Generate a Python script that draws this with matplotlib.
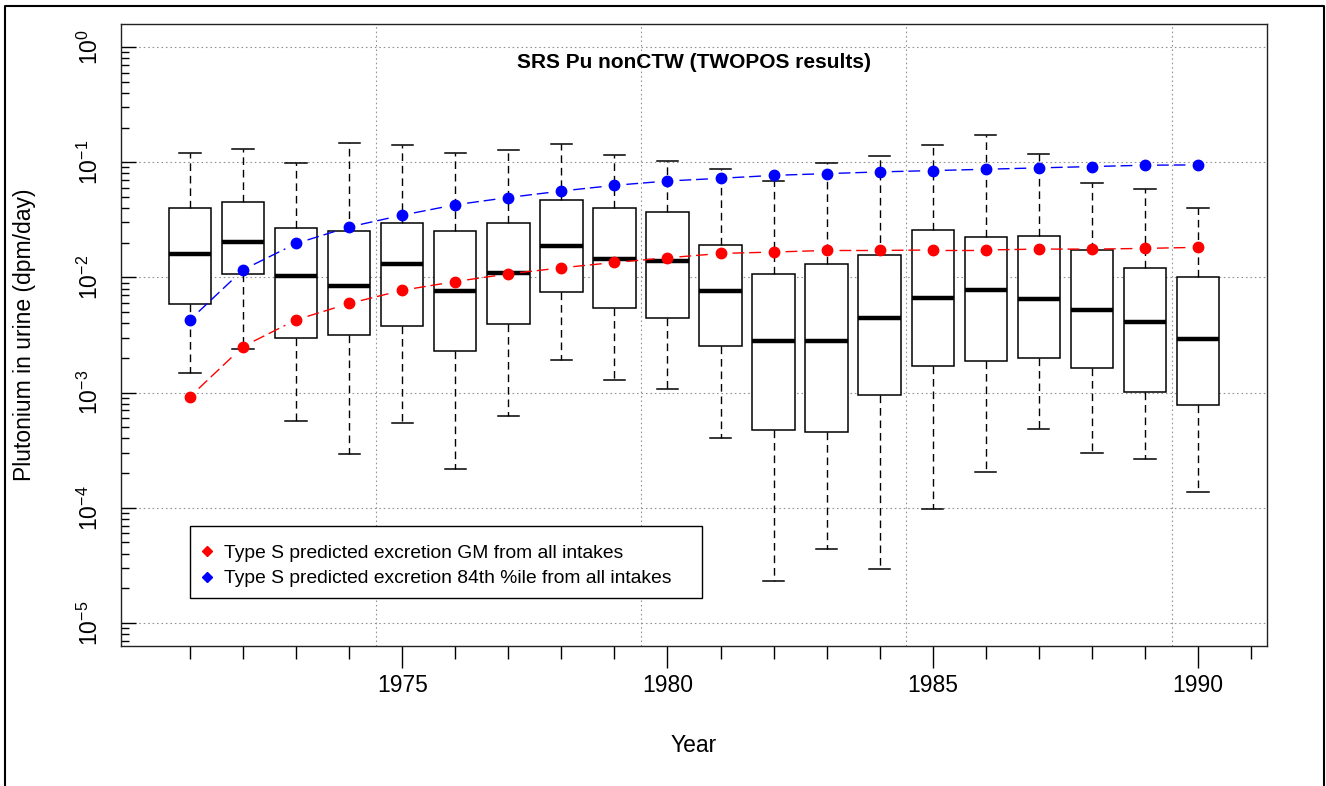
import numpy as np
import matplotlib

matplotlib.use("Agg")
import matplotlib.pyplot as plt
from matplotlib.lines import Line2D
from matplotlib.patches import Rectangle
from matplotlib.ticker import LogLocator, NullFormatter

plt.rcParams["font.family"] = ["Liberation Sans", "DejaVu Sans"]
plt.rcParams["mathtext.fontset"] = "custom"
plt.rcParams["mathtext.rm"] = "Liberation Sans"
plt.rcParams["mathtext.it"] = "Liberation Sans:italic"
plt.rcParams["mathtext.bf"] = "Liberation Sans:bold"

# --- data (dpm/day) ---
years = list(range(1971, 1991))
whishi = [0.120, 0.1305, 0.0987, 0.1466, 0.140, 0.120, 0.1265, 0.1426, 0.1166, 0.1027,
          0.0869, 0.0687, 0.098, 0.1128, 0.140, 0.171, 0.1174, 0.0664, 0.0588, 0.0402]
q3 = [0.0402, 0.0456, 0.0267, 0.0251, 0.0299, 0.0251, 0.0299, 0.0466, 0.0402, 0.0368,
      0.01923, 0.01066, 0.01312, 0.01563, 0.0258, 0.0223, 0.0230, 0.01715, 0.0120, 0.0101]
med = [0.0161, 0.0204, 0.0103, 0.00849, 0.01312, 0.00767, 0.0110, 0.0187, 0.01432, 0.01394,
       0.00767, 0.00283, 0.00283, 0.00440, 0.00667, 0.00773, 0.00644, 0.00524, 0.00414, 0.00292]
q1 = [0.0059, 0.01066, 0.0030, 0.00319, 0.00379, 0.00231, 0.00392, 0.00746, 0.00542, 0.00440,
      0.00252, 0.000469, 0.000453, 0.000955, 0.00171, 0.00188, 0.00198, 0.00162, 0.00101, 0.000774]
whislo = [0.00148, 0.00238, 0.000562, 0.000293, 0.000543, 0.000218, 0.000629, 0.00193, 0.00129, 0.001076,
          0.000404, 2.31e-5, 4.35e-5, 2.97e-5, 9.84e-5, 0.000206, 0.000485, 0.000301, 0.000267, 0.000136]
gm = [0.00092, 0.00251, 0.00428, 0.00594, 0.00773, 0.00920, 0.01073, 0.01211, 0.01349, 0.01480,
      0.01614, 0.0166, 0.01715, 0.01715, 0.0173, 0.0173, 0.01762, 0.0176, 0.01786, 0.01824]
p84 = [0.00428, 0.01164, 0.0197, 0.0274, 0.0347, 0.0427, 0.0494, 0.0562, 0.0630, 0.0687,
       0.0725, 0.0769, 0.0796, 0.0824, 0.0846, 0.0869, 0.0893, 0.0917, 0.0942, 0.0948]

major_years = [1975, 1980, 1985, 1990]
minor_years = [y for y in range(1971, 1992) if y not in major_years]
xgrid = [1974.5, 1979.5, 1984.5, 1989.5]
decades = [1e-5, 1e-4, 1e-3, 1e-2, 1e-1, 1e0]
decade_labels = [r"$10^{-5}$", r"$10^{-4}$", r"$10^{-3}$", r"$10^{-2}$", r"$10^{-1}$", r"$10^{0}$"]
legend_labels = ["Type S predicted excretion GM from all intakes",
                 "Type S predicted excretion 84th %ile from all intakes"]

W, H = 1326, 786
fig = plt.figure(figsize=(W / 100, H / 100), dpi=100, facecolor="white")
ax = fig.add_axes([121 / W, 1 - 646 / H, (1267 - 121) / W, (646 - 24) / H])
ax.set_yscale("log")
ax.set_xlim(1969.7, 1991.3)
ax.set_ylim(10 ** -5.2, 10 ** 0.2)

grid_kw = dict(color="#909090", lw=0.8, linestyle=(0, (1.4, 2.6)), zorder=1)
for v in decades:
    ax.axhline(v, **grid_kw)
for v in xgrid:
    ax.axvline(v, **grid_kw)

stats = [dict(med=m, q1=a, q3=b, whislo=lo, whishi=hi, fliers=[])
         for m, a, b, lo, hi in zip(med, q1, q3, whislo, whishi)]
ax.bxp(stats, positions=years, widths=0.8, capwidths=0.4, showfliers=False,
       patch_artist=True, manage_ticks=False, zorder=2,
       boxprops=dict(facecolor="white", edgecolor="black", linewidth=1.1),
       medianprops=dict(color="black", linewidth=3.2, solid_capstyle="butt"),
       whiskerprops=dict(color="black", linewidth=1.0, linestyle=(0, (5.5, 3.5))),
       capprops=dict(color="black", linewidth=1.1))


def gapped_line(x, y, color, gap_px=12):
    # R type="b": segments stop short of each point
    pts = ax.transData.transform(np.column_stack([x, y]))
    inv = ax.transData.inverted()
    for p0, p1 in zip(pts[:-1], pts[1:]):
        d = p1 - p0
        n = np.hypot(*d)
        if n <= 2 * gap_px:
            continue
        u = d / n
        seg = inv.transform(np.array([p0 + u * gap_px, p1 - u * gap_px]))
        ax.plot(seg[:, 0], seg[:, 1], color=color, lw=1.0,
                linestyle=(0, (8.5, 3.5)), zorder=3)
    ax.plot(x, y, "o", color=color, ms=7.5, zorder=4)


gapped_line(years, gm, "red")
gapped_line(years, p84, "blue")

# axes styling
for s in ax.spines.values():
    s.set_linewidth(1.0)
    s.set_color("#222222")

ax.set_xticks(major_years)
ax.set_xticks(minor_years, minor=True)
ax.tick_params(axis="x", which="major", direction="out", length=15.5, width=1.0,
               labelsize=16.5, pad=5)
ax.tick_params(axis="x", which="minor", direction="out", length=9.5, width=1.0)

ax.set_yticks(decades)
ax.set_yticklabels(decade_labels)
ax.yaxis.set_minor_locator(LogLocator(base=10, subs=range(2, 10), numticks=50))
ax.yaxis.set_minor_formatter(NullFormatter())
ax.tick_params(axis="y", which="major", direction="in", length=11, width=1.0,
               labelsize=16.5, labelrotation=90, pad=13)
ax.tick_params(axis="y", which="minor", direction="in", length=5.5, width=1.0)
for lab in ax.get_yticklabels():
    lab.set_va("center")

ax.set_xlabel("Year", fontsize=16.5)
ax.xaxis.set_label_coords(0.5, (646 - 746) / 622)
ax.xaxis.label.set_va("center")
ax.set_ylabel("Plutonium in urine (dpm/day)", fontsize=16.5)
ax.yaxis.set_label_coords((24.5 - 121) / 1146, 0.5)
ax.yaxis.label.set_va("center")

ax.text(0.5, (646 - 62) / 622, "SRS Pu nonCTW (TWOPOS results)", transform=ax.transAxes,
        ha="center", va="center", fontsize=15, fontweight="bold", zorder=6)

# legend with an R-style box
lx0, lx1 = (190 - 121) / 1146, (702 - 121) / 1146
ly0, ly1 = (646 - 598) / 622, (646 - 526) / 622
ax.add_patch(Rectangle((lx0, ly0), lx1 - lx0, ly1 - ly0, transform=ax.transAxes,
                       facecolor="white", edgecolor="black", lw=1.0, zorder=5))
handles = [Line2D([], [], marker="D", color=c, ls="none", ms=5.5) for c in ("red", "blue")]
leg = ax.legend(handles, legend_labels, loc="upper left",
                bbox_to_anchor=(lx0, (646 - 531) / 622),
                frameon=False, fontsize=13.9, handlelength=0.4, handletextpad=0.67,
                borderpad=0.7, labelspacing=0.41, borderaxespad=0)
leg.set_zorder(6)

# outer frame of the device
fig.add_artist(Line2D([5 / W, 5 / W, 1324 / W, 1324 / W], [-0.01, 1 - 6 / H, 1 - 6 / H, -0.01],
                      transform=fig.transFigure, color="black", lw=1.5))

fig.savefig("out.png", dpi=100, facecolor="white")
